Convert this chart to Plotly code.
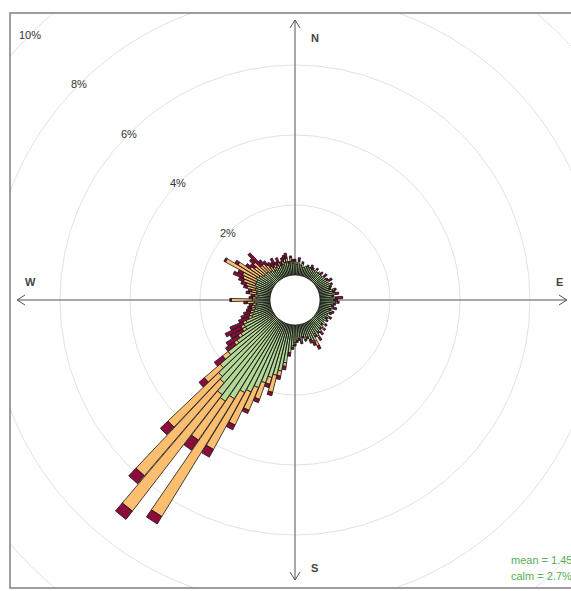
import numpy as np
import plotly.graph_objects as go

# Wind direction bins (degrees, clockwise from north), 3-degree sectors
bearing = list(range(0, 360, 3))

# Frequency (%) in each speed interval, per direction bin
freq_low = [
    0.40, 0.30, 0.40, 0.30, 0.35, 0.25, 0.30, 0.30, 0.30, 0.30,
    0.30, 0.30, 0.35, 0.30, 0.30, 0.30, 0.30, 0.35, 0.35, 0.35,
    0.40, 0.35, 0.40, 0.35, 0.30, 0.40, 0.40, 0.45, 0.35, 0.45,
    0.40, 0.45, 0.40, 0.35, 0.40, 0.30, 0.40, 0.35, 0.30, 0.35,
    0.30, 0.35, 0.30, 0.40, 0.30, 0.40, 0.35, 0.45, 0.40, 0.50,
    0.40, 0.60, 0.55, 0.50, 0.40, 0.45, 0.35, 0.45, 0.40, 0.45,
    0.50, 0.60,
    0.80, 1.10, 1.35, 1.50, 1.60, 1.80, 2.00, 2.20, 2.30, 2.60,
    2.80, 2.70, 2.40, 2.30, 2.10, 1.70, 1.30, 1.10, 0.90, 0.90,
    0.80, 0.60, 0.55, 0.50, 0.45, 0.45, 0.40, 0.45, 0.50, 0.40,
    0.35, 0.40, 0.40, 0.45, 0.45, 0.50, 0.50, 0.50, 0.55, 0.50,
    0.45, 0.40, 0.40, 0.40, 0.35, 0.35, 0.30, 0.30, 0.35, 0.30,
    0.35, 0.30, 0.35, 0.40, 0.40, 0.30, 0.40, 0.35,
]
freq_mid = [
    0.00, 0.05, 0.00, 0.00, 0.00, 0.00, 0.00, 0.00, 0.00, 0.00,
    0.00, 0.00, 0.00, 0.00, 0.05, 0.00, 0.00, 0.00, 0.00, 0.00,
    0.00, 0.00, 0.00, 0.00, 0.00, 0.05, 0.00, 0.00, 0.00, 0.00,
    0.00, 0.05, 0.00, 0.00, 0.00, 0.00, 0.00, 0.00, 0.00, 0.05,
    0.00, 0.00, 0.00, 0.00, 0.00, 0.05, 0.00, 0.00, 0.00, 0.05,
    0.05, 0.15, 0.05, 0.00, 0.00, 0.00, 0.00, 0.05, 0.00, 0.00,
    0.05, 0.05,
    0.00, 0.10, 0.15, 0.50, 0.20, 0.50, 0.70, 1.05, 1.85, 3.95,
    1.35, 4.20, 3.50, 2.00, 0.60, 0.20, 0.10, 0.10, 0.10, 0.10,
    0.10, 0.10, 0.10, 0.10, 0.10, 0.10, 0.10, 0.20, 0.60, 0.10,
    0.10, 0.20, 0.15, 0.25, 0.30, 0.35, 0.40, 0.45, 1.00, 0.70,
    0.40, 0.35, 0.45, 0.25, 0.30, 0.20, 0.15, 0.10, 0.10, 0.10,
    0.10, 0.05, 0.10, 0.10, 0.10, 0.05, 0.10, 0.05,
]
freq_high = [
    0.05, 0.00, 0.10, 0.00, 0.05, 0.00, 0.00, 0.05, 0.00, 0.10,
    0.05, 0.00, 0.05, 0.00, 0.00, 0.10, 0.00, 0.10, 0.00, 0.05,
    0.10, 0.00, 0.05, 0.05, 0.05, 0.05, 0.05, 0.10, 0.05, 0.20,
    0.10, 0.05, 0.05, 0.05, 0.10, 0.05, 0.05, 0.05, 0.00, 0.05,
    0.05, 0.05, 0.00, 0.05, 0.05, 0.05, 0.05, 0.10, 0.05, 0.10,
    0.05, 0.10, 0.10, 0.10, 0.05, 0.05, 0.05, 0.05, 0.05, 0.05,
    0.05, 0.05,
    0.10, 0.10, 0.10, 0.10, 0.10, 0.10, 0.10, 0.15, 0.25, 0.25,
    0.35, 0.30, 0.30, 0.30, 0.20, 0.30, 0.30, 0.40, 0.40, 0.50,
    0.40, 0.30, 0.25, 0.20, 0.15, 0.10, 0.10, 0.10, 0.05, 0.10,
    0.10, 0.10, 0.10, 0.10, 0.15, 0.15, 0.30, 0.15, 0.05, 0.10,
    0.15, 0.15, 0.15, 0.50, 0.15, 0.15, 0.15, 0.15, 0.20, 0.10,
    0.15, 0.10, 0.10, 0.10, 0.15, 0.05, 0.05, 0.05,
]

ring_levels = [2, 4, 6, 8, 10]
ring_labels = ["2%", "4%", "6%", "8%", "10%"]
compass = [("N", 0), ("E", 90), ("S", 180), ("W", 270)]
mean_speed = 1.45
calm_pct = 2.7

series = [
    (freq_low, "#B4D896"),
    (freq_mid, "#FDBF6F"),
    (freq_high, "#8C0B3D"),
]

# Geometry: pixels per percent, calm-circle radius and plot window
PX = 35.0
CALM_R = 25.0 / PX
HALF_W = 1.4          # half angular width of each wedge (deg)
W, H = 571, 591
M_L, M_R, M_T, M_B = 10, 0, 13, 3
CX, CY = 295, 300     # pixel position of the origin

x_range = [(M_L - CX) / PX, (W - M_R - CX) / PX]
y_range = [(CY - (H - M_B)) / PX, (CY - M_T) / PX]


def wedge(angle, r0, r1):
    th = np.radians(np.linspace(angle - HALF_W, angle + HALF_W, 4))
    xs = list(r1 * np.sin(th)) + list(r0 * np.sin(th[::-1]))
    ys = list(r1 * np.cos(th)) + list(r0 * np.cos(th[::-1]))
    return xs + [xs[0]], ys + [ys[0]]


fig = go.Figure()

cum = np.zeros(len(bearing))
for values, color in series:
    xs, ys = [], []
    for i, a in enumerate(bearing):
        v = values[i]
        if v <= 0:
            continue
        r0 = CALM_R + cum[i]
        r1 = r0 + v
        wx, wy = wedge(a, r0, r1)
        xs += wx + [None]
        ys += wy + [None]
    cum += np.array(values)
    fig.add_trace(go.Scatter(
        x=xs, y=ys, mode="lines", fill="toself", fillcolor=color,
        line=dict(color="#141414", width=0.8), hoverinfo="skip",
        showlegend=False,
    ))

shapes = []
# grid rings
for lv in ring_levels:
    r = CALM_R + lv
    shapes.append(dict(type="circle", xref="x", yref="y", x0=-r, x1=r,
                       y0=-r, y1=r, line=dict(color="#E2E2E2", width=1),
                       layer="below"))

# compass axes with open arrowheads
ax_col = "#555555"
tip_n, tip_s = (CY - 20) / PX, (CY - 580) / PX
tip_w, tip_e = (17 - CX) / PX, (567 - CX) / PX
ah_len, ah_w = 8 / PX, 5 / PX
shapes.append(dict(type="line", x0=0, x1=0, y0=tip_s, y1=tip_n,
                   line=dict(color=ax_col, width=1), layer="below"))
shapes.append(dict(type="line", x0=tip_w, x1=tip_e, y0=0, y1=0,
                   line=dict(color=ax_col, width=1), layer="below"))
for (tx, ty, dx, dy) in [(0, tip_n, 0, -1), (0, tip_s, 0, 1),
                         (tip_w, 0, 1, 0), (tip_e, 0, -1, 0)]:
    for s in (-1, 1):
        bx = tx + dx * ah_len + s * ah_w * abs(dy)
        by = ty + dy * ah_len + s * ah_w * abs(dx)
        shapes.append(dict(type="line", x0=tx, y0=ty, x1=bx, y1=by,
                           line=dict(color=ax_col, width=1), layer="below"))

# calm circle
shapes.append(dict(type="circle", xref="x", yref="y", x0=-CALM_R, x1=CALM_R,
                   y0=-CALM_R, y1=CALM_R, fillcolor="white",
                   line=dict(width=0), layer="below"))

# panel frame (right edge runs past the window)
shapes.append(dict(type="rect", xref="paper", yref="paper", x0=0, x1=1.05,
                   y0=0, y1=1, line=dict(color="#7f7f7f", width=1.5)))

annotations = []
for lv, lab in zip(ring_levels, ring_labels):
    r = CALM_R + lv
    ang = np.radians(315)
    annotations.append(dict(x=float(r * np.sin(ang)), y=float(r * np.cos(ang)),
                            text=lab, showarrow=False, xref="x", yref="y",
                            font=dict(size=11, color="#333333")))

lab_off = {"N": (0.57, 7.49), "E": (7.57, 0.51), "S": (0.57, -7.66),
           "W": (-7.57, 0.51)}
for name, _ in compass:
    lx, ly = lab_off[name]
    annotations.append(dict(x=lx, y=ly, text=f"<b>{name}</b>", showarrow=False,
                            xref="x", yref="y",
                            font=dict(size=11, color="#444444")))

plot_w = W - M_L - M_R
plot_h = H - M_T - M_B
right_px = 574
for txt, py in [(f"mean = {mean_speed}", 560), (f"calm = {calm_pct}%", 576)]:
    annotations.append(dict(
        x=(right_px - M_L) / plot_w, y=(H - M_B - py) / plot_h,
        xref="paper", yref="paper", xanchor="right", yanchor="middle",
        text=txt, showarrow=False,
        font=dict(size=11, color="#55AE55")))

fig.update_layout(
    width=W, height=H,
    margin=dict(l=M_L, r=M_R, t=M_T, b=M_B),
    paper_bgcolor="white", plot_bgcolor="white",
    font=dict(family="Liberation Sans, Arial, sans-serif"),
    xaxis=dict(range=x_range, visible=False, fixedrange=True),
    yaxis=dict(range=y_range, visible=False, fixedrange=True),
    shapes=shapes, annotations=annotations, showlegend=False,
)

fig.write_html("out.html")
